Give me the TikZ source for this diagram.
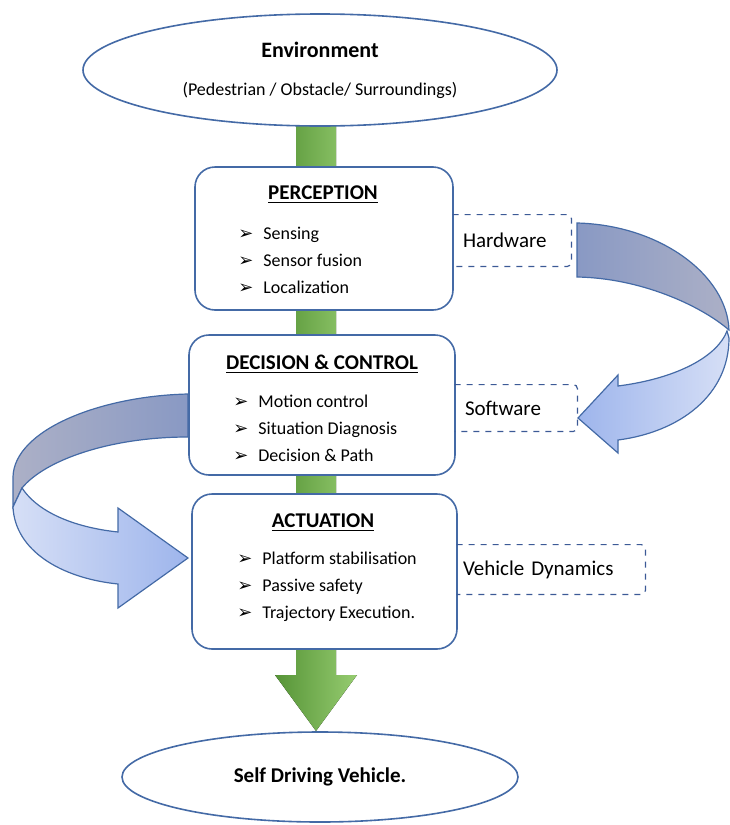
\documentclass[tikz,border=0pt]{standalone}
\usepackage{fontspec}
\setmainfont{Carlito}
\newfontfamily\arrowfont{DejaVu Sans}
\usetikzlibrary{shapes.geometric,calc}

\definecolor{boxline}{RGB}{68,106,166}
\definecolor{dashline}{RGB}{60,90,150}
\definecolor{bardark}{RGB}{86,148,55}
\definecolor{barlight}{RGB}{150,204,112}
\definecolor{backdark}{RGB}{137,153,196}
\definecolor{backlight}{RGB}{172,176,198}
\definecolor{frontdark}{RGB}{158,181,236}
\definecolor{frontlight}{RGB}{214,223,246}

\newcommand{\pointer}{\makebox[12.5pt][l]{\arrowfont\fontsize{9}{9}\selectfont ➢}}

\begin{document}
\begin{tikzpicture}[x=0.5pt,y=-0.5pt,
    stage/.style={draw=boxline, line width=0.8pt, rounded corners=10pt, fill=white, inner sep=0pt},
    oval/.style={ellipse, draw=boxline, line width=0.8pt, fill=white, inner sep=0pt, align=center},
    heading/.style={font=\fontsize{10.5}{12}\selectfont\bfseries, anchor=base, inner sep=0pt},
    items/.style={font=\fontsize{9}{13.5}\selectfont, align=left, anchor=west, inner sep=0pt},
    tag/.style={font=\fontsize{10.5}{12}\selectfont, align=left, inner ysep=0pt, inner xsep=5pt},
    tagline/.style={draw=dashline, dashed, line width=0.6pt, rounded corners=2pt},
    turn/.style={draw=boxline, line width=0.6pt}]
    \useasboundingbox (0,0) rectangle (729,825);

    % green flow arrow, behind the stages
    \coordinate (bartop) at (316,126);
    \coordinate (bartip) at (316,731);
    \fill[left color=bardark, right color=barlight]
        ($(bartop)+(-20,0)$) -- ($(bartop)+(20,0)$) -- ($(bartip)+(20,-56)$) -- ($(bartip)+(41,-56)$)
        -- (bartip) -- ($(bartip)+(-41,-56)$) -- ($(bartip)+(-20,-56)$) -- cycle;

    % start and end
    \node[oval, minimum width=237pt, minimum height=56pt] (env) at (320,70)
        {{\fontsize{11}{12}\selectfont\bfseries Environment}\\[7pt]
         {\fontsize{9}{11}\selectfont (Pedestrian / Obstacle/ Surroundings)}};
    \node[oval, minimum width=198pt, minimum height=45pt] (sdv) at (320,777)
        {\fontsize{10.5}{12}\selectfont\bfseries Self Driving Vehicle.};

    % Perception
    \node[stage, minimum width=129pt, minimum height=71.5pt] (per) at (324,238.5) {};
    \node[heading] (pertitle) at (323,199) {\underline{PERCEPTION}};
    \node[items] (perlist) at (238,260) {\pointer Sensing\\ \pointer Sensor fusion\\ \pointer Localization};

    % Decision and control
    \node[stage, minimum width=133pt, minimum height=70pt] (dec) at (322,405) {};
    \node[heading] (dectitle) at (322,369) {\underline{DECISION \& CONTROL}};
    \node[items] (declist) at (233,428) {\pointer Motion control\\ \pointer Situation Diagnosis\\ \pointer Decision \& Path};

    % Actuation
    \node[stage, minimum width=132.5pt, minimum height=77.5pt] (act) at (324.5,571.5) {};
    \node[heading] (acttitle) at (323,527) {\underline{ACTUATION}};
    \node[items] (actlist) at (237,587) {\pointer Platform stabilisation\\ \pointer Passive safety\\ \pointer Trajectory Execution.};

    % side tags
    \node[tag, text width=49pt, minimum height=25.5pt] (hw) at (512,240.5) {Hardware};
    \draw[tagline] (hw.north west) -- (hw.north east) -- (hw.south east) -- (hw.south west);
    \node[tag, text width=51pt, minimum height=23pt] (sw) at (516,408) {Software};
    \draw[tagline] (sw.north west) -- (sw.north east) -- (sw.south east) -- (sw.south west);
    \node[tag, inner xsep=3pt, text width=88pt, minimum height=24.5pt] (vd) at (551,569.5) {Vehicle Dynamics};
    \draw[tagline] (vd.north west) -- (vd.north east) -- (vd.south east) -- (vd.south west);

    % curved arrow on the right
    \draw[turn, left color=backdark, right color=backlight]
        (577,223) .. controls (660,225) and (727,275) .. (729,330)
        .. controls (700,305) and (640,278) .. (577,277) -- cycle;
    \draw[turn, left color=frontdark, right color=frontlight]
        (727,331) .. controls (718,355) and (680,378) .. (618,386) -- (618,375) -- (578,418)
        -- (618,453) -- (618,440) .. controls (680,432) and (729,395) .. (729,338) -- cycle;

    % curved arrow on the left
    \draw[turn, left color=backlight, right color=backdark]
        (188,394) .. controls (100,396) and (14,430) .. (13,477) -- (13,507) -- (22,488)
        .. controls (45,460) and (110,437) .. (188,437) -- cycle;
    \draw[turn, left color=frontlight, right color=frontdark]
        (13,507) -- (22,488) .. controls (40,515) and (80,528) .. (118,532) -- (118,508)
        -- (188,558) -- (118,608) -- (118,584) .. controls (60,578) and (15,550) .. (13,507) -- cycle;
\end{tikzpicture}
\end{document}
